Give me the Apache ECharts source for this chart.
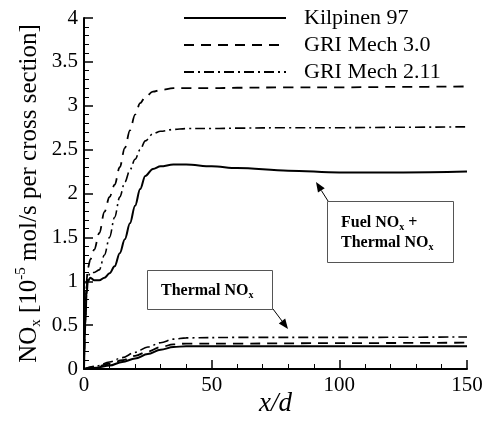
<!DOCTYPE html>
<html>
<head>
<meta charset="utf-8">
<script src="https://cdn.jsdelivr.net/npm/echarts@6/dist/echarts.min.js"></script>
<style>
  html, body { margin: 0; padding: 0; background: #fff; }
  #chart { width: 486px; height: 422px; }
</style>
</head>
<body>
<div id="chart"></div>
<script>
// x/d sample positions
const xFuel = [0, 0.5, 1, 1.5, 2.5, 4, 6, 8, 10, 12, 14, 16, 18, 20, 22, 24, 27, 30, 35, 40, 50, 60, 80, 100, 125, 150];
const xThermal = [0, 5, 10, 15, 20, 25, 30, 35, 40, 60, 100, 150];

// Fuel NOx + Thermal NOx
const kilpinenFuel = [0, 0.5, 0.85, 1.0, 1.04, 1.01, 1.01, 1.04, 1.09, 1.17, 1.32, 1.48, 1.66, 1.86, 2.05, 2.2, 2.28, 2.31, 2.33, 2.33, 2.31, 2.29, 2.26, 2.24, 2.24, 2.25];
const gri30Fuel = [0, 0.6, 1.0, 1.15, 1.25, 1.36, 1.55, 1.79, 1.96, 2.1, 2.3, 2.52, 2.72, 2.9, 3.03, 3.1, 3.16, 3.18, 3.2, 3.2, 3.2, 3.205, 3.21, 3.21, 3.215, 3.22];
const gri211Fuel = [0, 0.55, 0.95, 1.05, 1.1, 1.1, 1.13, 1.3, 1.5, 1.73, 1.96, 2.13, 2.27, 2.39, 2.5, 2.6, 2.68, 2.71, 2.73, 2.74, 2.74, 2.745, 2.75, 2.75, 2.755, 2.76];

// Thermal NOx only
const kilpinenThermal = [0, 0.015, 0.04, 0.08, 0.12, 0.17, 0.22, 0.25, 0.26, 0.26, 0.258, 0.258];
const gri30Thermal = [0, 0.03, 0.06, 0.1, 0.15, 0.2, 0.25, 0.28, 0.29, 0.29, 0.295, 0.3];
const gri211Thermal = [0, 0.035, 0.08, 0.13, 0.19, 0.25, 0.3, 0.34, 0.355, 0.36, 0.36, 0.365];

const legendNames = ["Kilpinen 97", "GRI Mech 3.0", "GRI Mech 2.11"];
const xTicks = [0, 50, 100, 150];

const font = "'Liberation Serif', 'Times New Roman', serif";
const pairs = (xs, ys) => xs.map((x, i) => [x, ys[i]]);

const styles = {
	"Kilpinen 97": { type: "solid", width: 2 },
	"GRI Mech 3.0": { type: [10, 7], width: 1.8 },
	"GRI Mech 2.11": { type: [10, 4, 2, 4], width: 1.6 },
};

const makeSeries = (name, xs, ys, label) => ({
	name: label || name,
	type: "line",
	data: pairs(xs, ys),
	showSymbol: false,
	symbol: "none",
	smooth: 0.35,
	smoothMonotone: "x",
	lineStyle: { color: "#000", type: styles[name].type, width: styles[name].width },
	itemStyle: { color: "#000" },
	silent: true,
});

// arrow helper for the annotations
const arrow = (x1, y1, x2, y2) => {
	const a = Math.atan2(y2 - y1, x2 - x1);
	const len = 10, half = 4;
	const bx = x2 - len * Math.cos(a), by = y2 - len * Math.sin(a);
	return [
		{ type: "line", shape: { x1, y1, x2: bx, y2: by }, style: { stroke: "#000", lineWidth: 1 } },
		{
			type: "polygon",
			shape: {
				points: [
					[x2, y2],
					[bx + half * Math.sin(a), by - half * Math.cos(a)],
					[bx - half * Math.sin(a), by + half * Math.cos(a)],
				],
			},
			style: { fill: "#000" },
		},
	];
};

const noxRich = {
	b: { fontFamily: font, fontSize: 16, fontWeight: "bold", color: "#000", lineHeight: 20 },
	s: { fontFamily: font, fontSize: 10, fontWeight: "bold", color: "#000", lineHeight: 20, padding: [8, 0, 0, 0] },
};

const chart = echarts.init(document.getElementById("chart"));

chart.setOption({
	animation: false,
	backgroundColor: "#fff",
	grid: { left: 84, right: 19, top: 18, bottom: 53, containLabel: false, outerBoundsMode: "none" },
	legend: {
		data: legendNames,
		orient: "vertical",
		left: 183,
		top: 7,
		padding: 0,
		itemGap: 5,
		itemWidth: 102,
		itemHeight: 14,
		selectedMode: false,
		itemStyle: { opacity: 0 },
		textStyle: { fontFamily: font, fontSize: 22, color: "#000", lineHeight: 22, padding: [0, 0, 0, 13] },
	},
	xAxis: {
		type: "value",
		min: 0,
		max: 150,
		interval: 50,
		name: "x/d",
		nameLocation: "middle",
		nameGap: 21,
		nameMoveOverlap: false,
		nameTextStyle: { fontFamily: font, fontSize: 27, fontStyle: "italic", color: "#000" },
		axisLine: { lineStyle: { color: "#000", width: 2 } },
		axisTick: { inside: true, length: 9, lineStyle: { color: "#000", width: 1.5 } },
		minorTick: { show: true, splitNumber: 5, length: 5, lineStyle: { color: "#000", width: 1 } },
		splitLine: { show: false },
		axisLabel: {
			fontFamily: font,
			fontSize: 21,
			color: "#000",
			margin: 6,
			formatter: (v) => (xTicks.includes(v) ? String(v) : ""),
		},
	},
	yAxis: {
		type: "value",
		min: 0,
		max: 4,
		interval: 0.5,
		name: "NO{sub|x} [10{sup|-5} mol/s per cross section]",
		nameLocation: "middle",
		nameGap: 40,
		nameMoveOverlap: false,
		nameTextStyle: {
			fontFamily: font,
			fontSize: 25,
			color: "#000",
			lineHeight: 30,
			rich: {
				sub: { fontFamily: font, fontSize: 15, color: "#000", lineHeight: 15, verticalAlign: "bottom" },
				sup: { fontFamily: font, fontSize: 15, color: "#000", lineHeight: 15, verticalAlign: "top" },
			},
		},
		axisLine: { show: true, lineStyle: { color: "#000", width: 2 } },
		axisTick: { show: true, inside: true, length: 9, lineStyle: { color: "#000", width: 1.5 } },
		minorTick: { show: true, splitNumber: 5, length: 5, lineStyle: { color: "#000", width: 1 } },
		splitLine: { show: false },
		axisLabel: { fontFamily: font, fontSize: 21, color: "#000", margin: 6 },
	},
	series: [
		makeSeries("Kilpinen 97", xFuel, kilpinenFuel),
		makeSeries("GRI Mech 3.0", xFuel, gri30Fuel),
		makeSeries("GRI Mech 2.11", xFuel, gri211Fuel),
		makeSeries("Kilpinen 97", xThermal, kilpinenThermal, "Kilpinen 97 thermal"),
		makeSeries("GRI Mech 3.0", xThermal, gri30Thermal, "GRI Mech 3.0 thermal"),
		makeSeries("GRI Mech 2.11", xThermal, gri211Thermal, "GRI Mech 2.11 thermal"),
	],
	graphic: [
		{
			type: "rect",
			shape: { x: 327.5, y: 201.5, width: 126, height: 61 },
			style: { fill: "#fff", stroke: "#555", lineWidth: 1 },
		},
		{
			type: "text",
			left: 341,
			top: 214,
			style: { text: "{b|Fuel NO}{s|x}{b| +}\n{b|Thermal NO}{s|x}", rich: noxRich },
		},
		{
			type: "rect",
			shape: { x: 147.5, y: 270.5, width: 125, height: 39 },
			style: { fill: "#fff", stroke: "#555", lineWidth: 1 },
		},
		{
			type: "text",
			left: 161,
			top: 282,
			style: { text: "{b|Thermal NO}{s|x}", rich: noxRich },
		},
		...arrow(328, 201, 316, 182),
		...arrow(273, 309, 288, 329),
	],
});
</script>
</body>
</html>
